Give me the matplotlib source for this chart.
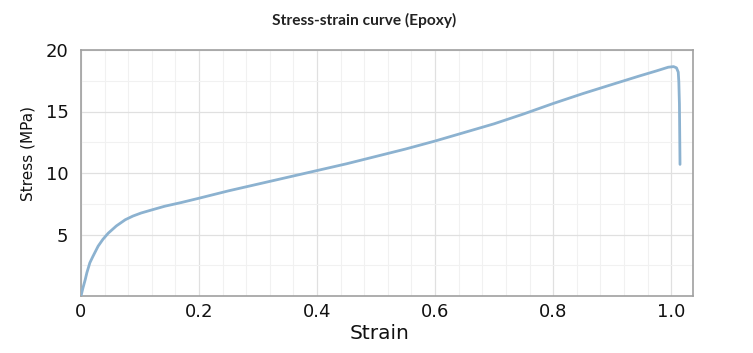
import matplotlib
matplotlib.use('Agg')
from matplotlib import pyplot as plt
from matplotlib.ticker import MultipleLocator

# strain / stress
strain = [0, 0.003, 0.007, 0.01, 0.015, 0.02, 0.029, 0.037, 0.046, 0.06, 0.075,
          0.088, 0.102, 0.12, 0.142, 0.17, 0.2, 0.25, 0.3, 0.35, 0.4, 0.45,
          0.5, 0.55, 0.6, 0.65, 0.7, 0.75, 0.8, 0.85, 0.9, 0.947, 0.975, 0.995,
          1.004, 1.009, 1.012, 1.013, 1.014, 1.015]
stress = [0, 0.6, 1.3, 1.9, 2.7, 3.2, 4.05, 4.6, 5.1, 5.7, 6.2,
          6.5, 6.75, 7.0, 7.3, 7.6, 7.95, 8.55, 9.1, 9.65, 10.2, 10.75,
          11.35, 11.95, 12.6, 13.3, 14.0, 14.8, 15.65, 16.45, 17.2, 17.9, 18.3, 18.6,
          18.65, 18.55, 18.2, 17.4, 15.6, 10.7]

x_ticks = [0, 0.2, 0.4, 0.6, 0.8, 1.0]
x_labels = ['0', '0.2', '0.4', '0.6', '0.8', '1.0']
y_ticks = [5, 10, 15, 20]

plt.rcParams['font.family'] = ['DejaVu Sans']

fig = plt.figure(figsize=(7.53, 3.53), dpi=100)
ax = fig.add_axes([81/753, 1 - 296/353, 612/753, 246/353])

ax.plot(strain, stress, color='#8cb2d0', linewidth=2.0, solid_capstyle='round',
        solid_joinstyle='round', zorder=3)

ax.set_xlim(0, 1.037)
ax.set_ylim(0, 20)
ax.set_xticks(x_ticks)
ax.set_xticklabels(x_labels)
ax.set_yticks(y_ticks)
ax.xaxis.set_minor_locator(MultipleLocator(0.04))
ax.yaxis.set_minor_locator(MultipleLocator(2.5))

ax.grid(which='major', color='#e0e0e0', linewidth=0.9)
ax.grid(which='minor', color='#f1f1f1', linewidth=0.8)
ax.set_axisbelow(True)

ax.tick_params(which='both', length=0)
ax.tick_params(axis='x', labelsize=13, pad=5, colors='#111111')
ax.tick_params(axis='y', labelsize=13, pad=9, colors='#111111')

for s in ax.spines.values():
    s.set_color('#a0a0a0')
    s.set_linewidth(1.2)

ax.set_xlabel('Strain', fontsize=14.5, color='#111111')
ax.xaxis.set_label_coords(0.488, -0.112)
ax.set_ylabel('Stress (MPa)', fontsize=11, color='#111111')
ax.yaxis.set_label_coords(-0.075, 0.58)

fig.text(364/753, 1 - 20/353, 'Stress-strain curve (Epoxy)', ha='center', va='center',
         fontsize=11.2, fontweight='bold', family=['Lato', 'DejaVu Sans'], color='#222222')

fig.savefig('out.png', dpi=100)
